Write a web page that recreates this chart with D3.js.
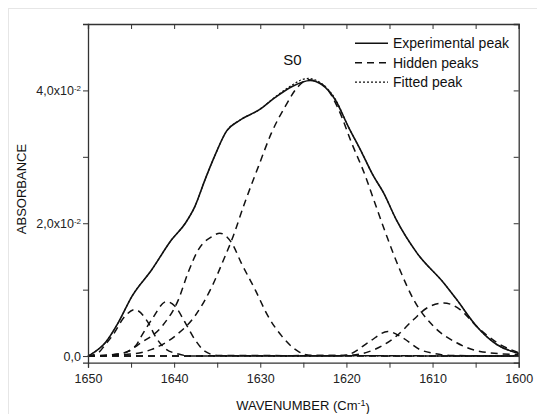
<!DOCTYPE html>
<html>
<head>
<meta charset="utf-8">
<script src="https://cdn.jsdelivr.net/npm/d3@7"></script>
<style>
  body { margin: 0; background: #fff; }
  text { font-family: Arial, "Liberation Sans", sans-serif; fill: #111; }
</style>
</head>
<body>
<div class="chart"></div>
<script>
// values: [wavenumber, absorbance]
var experimental = [
    [1650, 0.0000], [1649.6, 0.0003], [1648.0, 0.0020], [1646.5, 0.0050],
    [1644.9, 0.0090], [1642.6, 0.0130], [1640.3, 0.0175], [1638.7, 0.0200],
    [1637.6, 0.0225], [1636.4, 0.0266], [1635.3, 0.0301], [1633.9, 0.0339],
    [1632.4, 0.0355], [1630.1, 0.0371], [1628.3, 0.0389], [1626.3, 0.0406],
    [1624.2, 0.0415], [1622.9, 0.0409], [1621.3, 0.0386], [1619.8, 0.0346],
    [1618.2, 0.0306], [1616.9, 0.0272], [1615.7, 0.0246], [1614.2, 0.0205],
    [1611.8, 0.0155], [1608.7, 0.0110], [1607.2, 0.0085], [1604.9, 0.0045],
    [1602.5, 0.0017], [1600, 0.0004]
];

var fitted = [
    [1650, 0.0000], [1649.6, 0.0003], [1648.0, 0.0020], [1646.5, 0.0050],
    [1644.9, 0.0090], [1642.6, 0.0130], [1640.3, 0.0175], [1638.7, 0.0200],
    [1637.6, 0.0225], [1636.4, 0.0266], [1635.3, 0.0301], [1633.9, 0.0339],
    [1632.4, 0.0355], [1630.1, 0.0371], [1628.3, 0.0390], [1626.3, 0.0408],
    [1625.2, 0.0416], [1624.4, 0.0418], [1623.2, 0.0413], [1621.3, 0.0387],
    [1619.8, 0.0346], [1618.2, 0.0306], [1616.9, 0.0272], [1615.7, 0.0246],
    [1614.2, 0.0205], [1611.8, 0.0155], [1608.7, 0.0110], [1607.2, 0.0085],
    [1604.9, 0.0045], [1602.5, 0.0017], [1600, 0.0004]
];

var peak1 = [
    [1650, 0], [1648.8, 0.0005], [1648.0, 0.0017], [1647.2, 0.0030], [1645.7, 0.0060],
    [1644.6, 0.0070], [1643.0, 0.0050], [1642.2, 0.0030], [1641.1, 0.0012],
    [1639.5, 0.0003], [1638, 0], [1600, 0]
];
var peak2 = [
    [1650, 0], [1646.5, 0.0003], [1644.5, 0.0015], [1643.8, 0.0030], [1642.6, 0.0055],
    [1640.9, 0.0082], [1639.9, 0.0075], [1638.7, 0.0050], [1637.6, 0.0025],
    [1636.4, 0.0007], [1635, 0.0001], [1600, 0]
];
var peak3 = [
    [1650, 0], [1647, 0.0002], [1645.3, 0.0007], [1644.2, 0.0017], [1641.4, 0.0045],
    [1639.5, 0.0085], [1638.4, 0.0125], [1637.2, 0.0160], [1635.6, 0.0180],
    [1634.7, 0.0185], [1633.3, 0.0170], [1632.2, 0.0140], [1630.6, 0.0100],
    [1629.1, 0.0060], [1627.5, 0.0030], [1625.6, 0.0007], [1624, 0.0001], [1600, 0]
];
var peakS0 = [
    [1650, 0], [1645, 0.0003], [1642.6, 0.0010], [1639.9, 0.0030], [1637.6, 0.0060],
    [1635.6, 0.0105], [1634.1, 0.0150], [1633.3, 0.0175], [1631.8, 0.0231],
    [1630.2, 0.0286], [1628.7, 0.0336], [1627.1, 0.0376], [1625.6, 0.0406],
    [1624.4, 0.0416], [1622.5, 0.0406], [1620.9, 0.0371], [1619.4, 0.0321],
    [1617.8, 0.0271], [1616.9, 0.0238], [1615.3, 0.0180], [1613.8, 0.0130],
    [1612.2, 0.0085], [1609.9, 0.0045], [1607.2, 0.0020], [1604.5, 0.0007],
    [1600, 0.0002]
];
var peak5 = [
    [1650, 0], [1621, 0], [1619.4, 0.0004], [1617.3, 0.0022], [1615.2, 0.0037],
    [1613.4, 0.0027], [1611.5, 0.0010], [1609.9, 0.0004], [1608, 0.0001], [1600, 0]
];
var peak6 = [
    [1650, 0], [1620, 0.0001], [1617.3, 0.0007], [1614.2, 0.0030], [1612.2, 0.0055],
    [1610.7, 0.0072], [1608.7, 0.0080], [1606.8, 0.0070], [1604.9, 0.0045],
    [1602.5, 0.0020], [1600, 0.0005]
];
var hiddenPeaks = [peak1, peak2, peak3, peakS0, peak5, peak6];

var xTicks = [1650, 1645, 1640, 1635, 1630, 1625, 1620, 1615, 1610, 1605, 1600];
var yTicks = [0, 0.01, 0.02, 0.03, 0.04];
var yTickLabels = {0: ["0,0", ""], 0.02: ["2,0x10", "-2"], 0.04: ["4,0x10", "-2"]};
var legendNames = ["Experimental peak", "Hidden peaks", "Fitted peak"];

function spectrum() {

    var margin = {top: 24, right: 18.3, bottom: 51.3, left: 88},
        width = 537 - margin.left - margin.right,
        height = 414 - margin.top - margin.bottom;

    var svg0 = d3.select(".chart").append("svg")
        .attr("width", 537)
        .attr("height", 414);

    // faint frame of the original figure
    svg0.append("rect")
        .attr("x", 8.5).attr("y", 8.5)
        .attr("width", 560).attr("height", 440)
        .style("fill", "none")
        .style("stroke", "#e6e6e6");

    var svg = svg0.append("g")
        .attr("transform", "translate(" + margin.left + "," + margin.top + ")");

    var xScale = d3.scaleLinear().domain([1650, 1600]).range([0, width]);
    var yScale = d3.scaleLinear().domain([-0.001, 0.05]).range([height, 0]);

    var line = d3.line()
        .x(function (d) { return xScale(d[0]); })
        .y(function (d) { return yScale(d[1]); })
        .curve(d3.curveMonotoneX);

    // hidden peaks
    svg.selectAll(".peak")
        .data(hiddenPeaks)
        .enter().append("path")
        .attr("class", "peak")
        .attr("d", line)
        .style("fill", "none")
        .style("stroke", "#111")
        .style("stroke-width", 1.5)
        .style("stroke-dasharray", "7,5");

    // fitted peak
    svg.append("path")
        .attr("d", line(fitted))
        .style("fill", "none")
        .style("stroke", "#111")
        .style("stroke-width", 1.2)
        .style("stroke-dasharray", "2,2");

    // experimental
    svg.append("path")
        .attr("d", line(experimental))
        .style("fill", "none")
        .style("stroke", "#111")
        .style("stroke-width", 1.6);

    //axes
    var xAxis = d3.axisBottom(xScale).tickValues(xTicks).tickSize(5).tickPadding(6)
        .tickFormat(function (d) { return d % 10 === 0 ? d : ""; });
    var xTop = d3.axisTop(xScale).tickValues(xTicks).tickSize(-5).tickFormat("");
    var yAxis = d3.axisLeft(yScale).tickValues(yTicks).tickSize(5).tickPadding(2).tickFormat("");
    var yRight = d3.axisRight(yScale).tickValues(yTicks).tickSize(-5).tickFormat("");

    svg.append("g").attr("class", "axis")
        .attr("transform", "translate(0," + height + ")")
        .call(xAxis);
    svg.append("g").attr("class", "axis").call(xTop);
    var gy = svg.append("g").attr("class", "axis").call(yAxis);
    svg.append("g").attr("class", "axis")
        .attr("transform", "translate(" + width + ",0)")
        .call(yRight);

    svg.selectAll(".axis .domain").style("stroke", "#333").style("stroke-width", 1.3);
    svg.selectAll(".axis .tick line").style("stroke", "#333").style("stroke-width", 1);
    svg.selectAll(".axis text").style("font-size", "12.5px").style("fill", "#222");

    // y labels with superscript
    gy.selectAll(".tick").each(function (d) {
        var lab = yTickLabels[d];
        if (!lab) return;
        var t = d3.select(this).append("text")
            .attr("x", -7)
            .attr("dy", "0.35em")
            .style("text-anchor", "end")
            .style("font-size", "12.5px")
            .style("fill", "#222");
        t.append("tspan").text(lab[0]);
        if (lab[1]) {
            t.append("tspan").attr("dy", "-0.5em").style("font-size", "8px").text(lab[1]);
        }
    });

    // axis titles
    svg0.append("text")
        .attr("transform", "translate(26,189) rotate(-90)")
        .style("text-anchor", "middle")
        .style("font-size", "13px")
        .text("ABSORBANCE");

    var xt = svg0.append("text")
        .attr("x", 303).attr("y", 410)
        .style("text-anchor", "middle")
        .style("font-size", "13px");
    xt.append("tspan").text("WAVENUMBER (Cm");
    xt.append("tspan").attr("dy", "-0.5em").style("font-size", "9px").text("-1");
    xt.append("tspan").attr("dy", "0.5em").text(")");

    // peak label
    svg0.append("text")
        .attr("x", 292.5).attr("y", 65)
        .style("text-anchor", "middle")
        .style("font-size", "15px")
        .text("S0");

    // legend
    var dashes = ["none", "7,5", "2,2"];
    var legend = svg0.selectAll(".legend")
        .data(legendNames)
        .enter().append("g")
        .attr("class", "legend")
        .attr("transform", function (d, i) {
            return "translate(355," + (43.3 + i * 19.4) + ")";
        });

    legend.append("line")
        .attr("x1", 0).attr("x2", 33)
        .style("stroke", "#111")
        .style("stroke-width", function (d, i) { return i === 2 ? 1.2 : 1.6; })
        .style("stroke-dasharray", function (d, i) { return dashes[i]; });

    legend.append("text")
        .attr("x", 38)
        .attr("y", 5)
        .style("font-size", "14px")
        .text(function (d) { return d; });
}

spectrum();
</script>
</body>
</html>
